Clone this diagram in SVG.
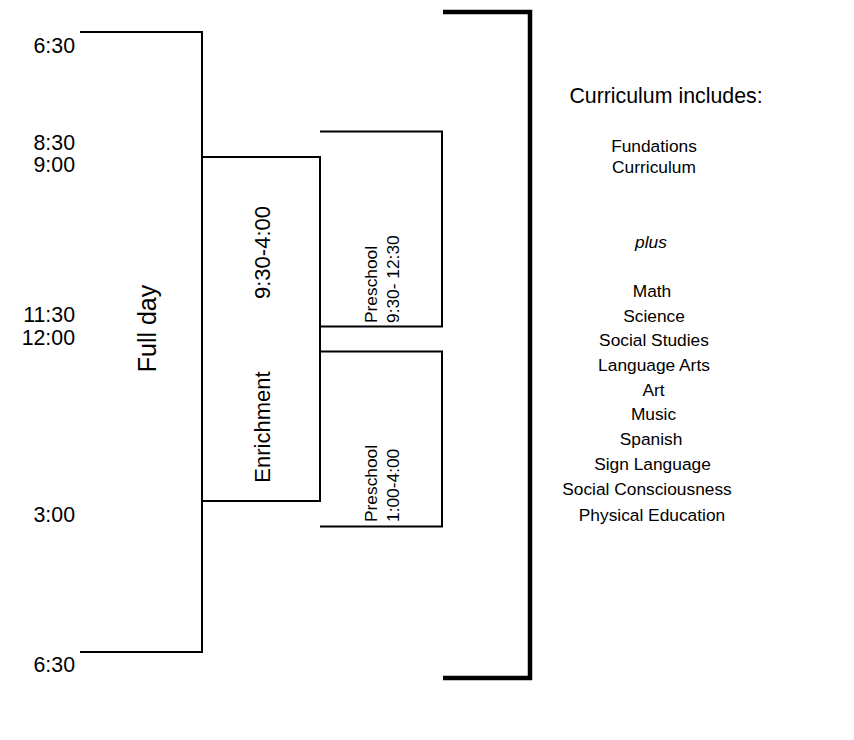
<svg xmlns="http://www.w3.org/2000/svg" width="854" height="740" viewBox="0 0 854 740">
<style>
.t{font-family:"Liberation Sans",Arial,sans-serif;fill:#000}
.time{font-size:21.33px;text-anchor:end}
.big{font-size:21.33px}
.mid{font-size:17.33px;text-anchor:middle}
.small{font-size:17.33px}
.ln{fill:none;stroke:#000;stroke-width:2}
.thick{fill:none;stroke:#000;stroke-width:4.5}
</style>
<rect width="854" height="740" fill="#fff"/>
<g id="connectors">
<polyline class="ln" points="80,32 202,32 202,652 80,652"/>
<polyline class="ln" points="202,157 320,157 320,501 202,501"/>
<polyline class="ln" points="320,131.5 442,131.5 442,326.5 320,326.5"/>
<polyline class="ln" points="320,351.5 442,351.5 442,526.5 320,526.5"/>
<polyline class="thick" points="443,12 530,12 530,678 443,678"/>
</g>
<g id="times">
<text class="t time" x="75" y="53">6:30</text>
<text class="t time" x="75" y="150">8:30</text>
<text class="t time" x="75" y="172">9:00</text>
<text class="t time" x="75" y="322">11:30</text>
<text class="t time" x="75" y="345">12:00</text>
<text class="t time" x="75" y="522">3:00</text>
<text class="t time" x="75" y="672">6:30</text>
</g>
<g id="fullday">
<text class="t" font-size="25" text-anchor="middle" transform="translate(155.5,328.5) rotate(-90)">Full day</text>
</g>
<g id="enrichment">
<text class="t" font-size="22" text-anchor="middle" transform="translate(270,252.5) rotate(-90)">9:30-4:00</text>
<text class="t" font-size="22" text-anchor="middle" transform="translate(270,427) rotate(-90)">Enrichment</text>
</g>
<g id="preschool-am">
<text class="t small" transform="translate(376.5,323) rotate(-90)">Preschool</text>
<text class="t small" transform="translate(399,323) rotate(-90)">9:30- 12:30</text>
</g>
<g id="preschool-pm">
<text class="t small" transform="translate(376.5,522) rotate(-90)">Preschool</text>
<text class="t small" transform="translate(399,522) rotate(-90)">1:00-4:00</text>
</g>
<g id="curriculum">
<text class="t big" x="666" y="103" text-anchor="middle">Curriculum includes:</text>
<text class="t mid" x="654" y="152">Fundations</text>
<text class="t mid" x="654" y="173">Curriculum</text>
<text class="t mid" x="651" y="248" font-style="italic">plus</text>
<text class="t mid" x="652" y="297">Math</text>
<text class="t mid" x="654" y="322">Science</text>
<text class="t mid" x="654" y="346">Social Studies</text>
<text class="t mid" x="654" y="371">Language Arts</text>
<text class="t mid" x="653.5" y="396">Art</text>
<text class="t mid" x="653.5" y="420">Music</text>
<text class="t mid" x="651" y="445">Spanish</text>
<text class="t mid" x="652.5" y="470">Sign Language</text>
<text class="t mid" x="647" y="495">Social Consciousness</text>
<text class="t mid" x="652" y="521">Physical Education</text>
</g>
</svg>
